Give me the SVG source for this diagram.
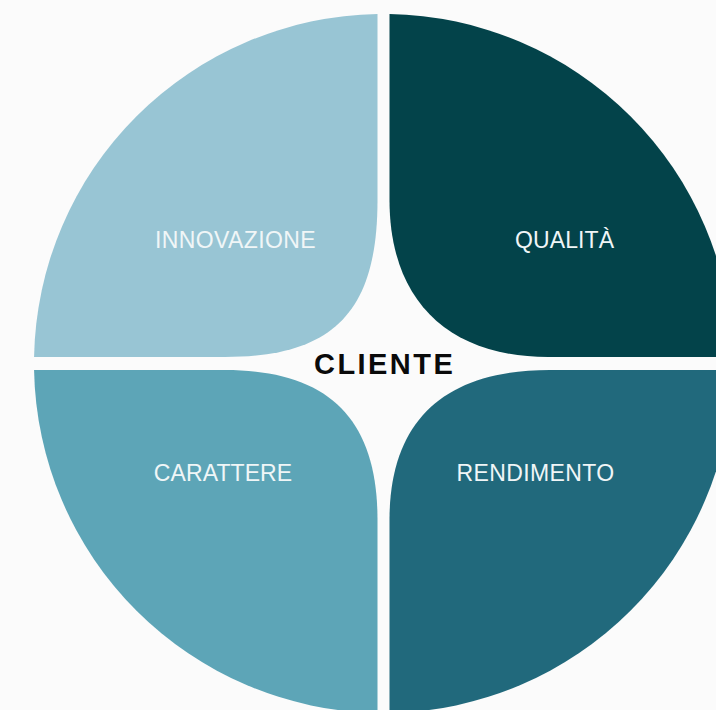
<svg xmlns="http://www.w3.org/2000/svg" width="716" height="710" viewBox="0 0 716 710">
  <style>
    .label { font-family: "Liberation Sans", Arial, Helvetica, sans-serif; font-size: 23px; fill: #F0F6F7; text-anchor: middle; }
    .center { font-family: "Liberation Sans", Arial, Helvetica, sans-serif; font-size: 29px; font-weight: bold; fill: #0A0A0A; text-anchor: middle; }
  </style>
  <rect x="0" y="0" width="716" height="710" fill="#FBFBFB"/>
  <g id="connectors"/>
  <g id="innovazione">
    <path d="M 377.5,14.05 L 377.5,200 C 377.5,310 335,357 225,357 L 34.06,357 A 349.5 349.5 0 0 1 377.5,14.05 Z" fill="#98C5D4"/>
    <text class="label" x="235.3" y="248.3" textLength="160.7" lengthAdjust="spacing">INNOVAZIONE</text>
  </g>
  <g id="qualita">
    <path d="M 389.5,14.05 A 349.5 349.5 0 0 1 732.94,357 L 548,357 C 448,357 389.5,300 389.5,200 Z" fill="#03434A"/>
    <text class="label" x="564.6" y="248.3" textLength="99" lengthAdjust="spacing">QUALITÀ</text>
  </g>
  <g id="carattere">
    <path d="M 225,370 C 330,370 377.5,420 377.5,520 L 377.5,712.95 A 349.5 349.5 0 0 1 34.06,370 Z" fill="#5DA5B7"/>
    <text class="label" x="223" y="481" textLength="138.3" lengthAdjust="spacing">CARATTERE</text>
  </g>
  <g id="rendimento">
    <path d="M 550,370 L 732.94,370 A 349.5 349.5 0 0 1 389.5,712.95 L 389.5,520 C 389.5,420 445,370 550,370 Z" fill="#21697C"/>
    <text class="label" x="535.4" y="481" textLength="157.6" lengthAdjust="spacing">RENDIMENTO</text>
  </g>
  <g id="cliente">
    <text class="center" x="383.4" y="374" textLength="138.7" lengthAdjust="spacing">CLIENTE</text>
  </g>
</svg>
